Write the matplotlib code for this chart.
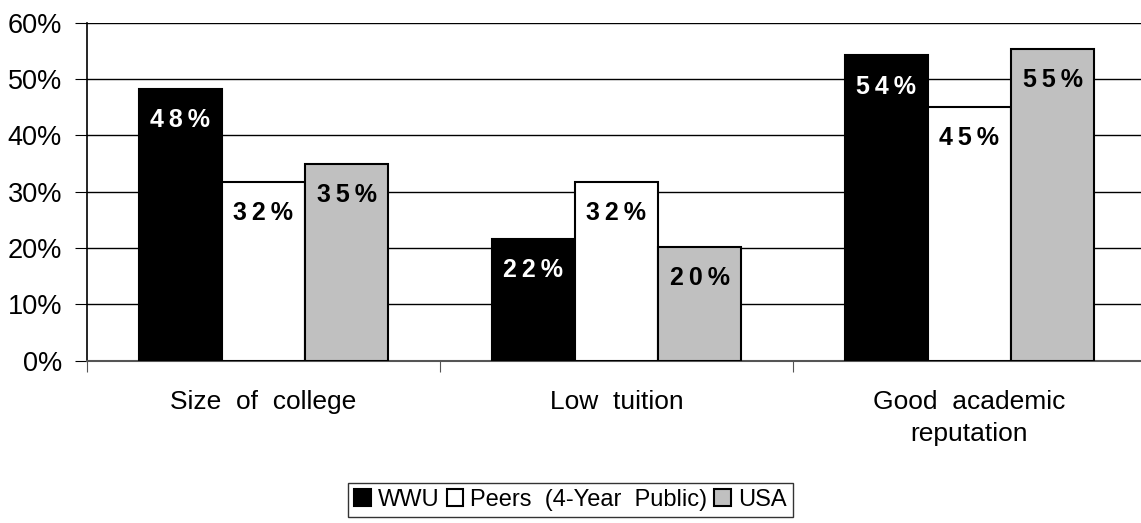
import matplotlib.pyplot as plt
import numpy as np

plt.rcParams['font.family'] = ['Liberation Sans', 'DejaVu Sans']

categories = ["Size  of  college", "Low  tuition", "Good  academic\nreputation"]
series = ["WWU", "Peers  (4-Year  Public)", "USA"]
wwu = [48.2, 21.6, 54.2]
peers = [31.7, 31.7, 45.1]
usa = [34.9, 20.2, 55.4]
values = [wwu, peers, usa]

face = ["black", "white", "#c0c0c0"]
text_col = ["white", "black", "black"]

fig = plt.figure(figsize=(11.41, 5.23), dpi=100)
ax = fig.add_axes([87 / 1141, 162.3 / 523, 1059 / 1141, 338 / 523])

x = np.arange(len(categories)) + 0.5
w = 0.236
for i, vals in enumerate(values):
    pos = x + (i - 1) * w
    bars = ax.bar(pos, vals, width=w, color=face[i], edgecolor="black",
                  linewidth=1.5, label=series[i], zorder=3)
    for b, v in zip(bars, vals):
        lab = "\u2009".join(list(f"{round(v):d}%"))
        ax.annotate(lab, (b.get_x() + b.get_width() / 2, v),
                    xytext=(0, -22.5), textcoords="offset points",
                    ha="center", va="center", fontsize=18, fontweight="bold",
                    color=text_col[i], zorder=4)

ax.set_xlim(0, 3)
ax.set_ylim(0, 60)
ax.set_yticks(range(0, 61, 10))
ax.set_yticklabels([f"{t}%" for t in range(0, 61, 10)], fontsize=19.5)
ax.yaxis.grid(True, color="black", linewidth=1, zorder=0)

ax.set_xticks([0, 1, 2, 3])
ax.set_xticklabels([])
ax.set_xticks(x, minor=True)
ax.set_xticklabels(categories, minor=True, fontsize=19, linespacing=1.45)
ax.tick_params(axis="x", which="minor", length=0, pad=21)
ax.tick_params(axis="x", which="major", length=8, color="#555555")
ax.tick_params(axis="y", length=9, pad=9)

for s in ["top", "right"]:
    ax.spines[s].set_visible(False)
ax.spines["left"].set_linewidth(1.2)
ax.spines["bottom"].set_color("#555555")
ax.spines["bottom"].set_linewidth(1.5)

leg = fig.legend(loc="upper center", bbox_to_anchor=(0.5, 1 - 483 / 523), ncol=3,
                 fontsize=17, frameon=True, fancybox=False, edgecolor="black",
                 handlelength=0.7, handleheight=0.7, handletextpad=0.3,
                 columnspacing=0.3, borderpad=0.25, borderaxespad=0)
leg.get_frame().set_linewidth(1)

fig.savefig("out.png", dpi=100)
